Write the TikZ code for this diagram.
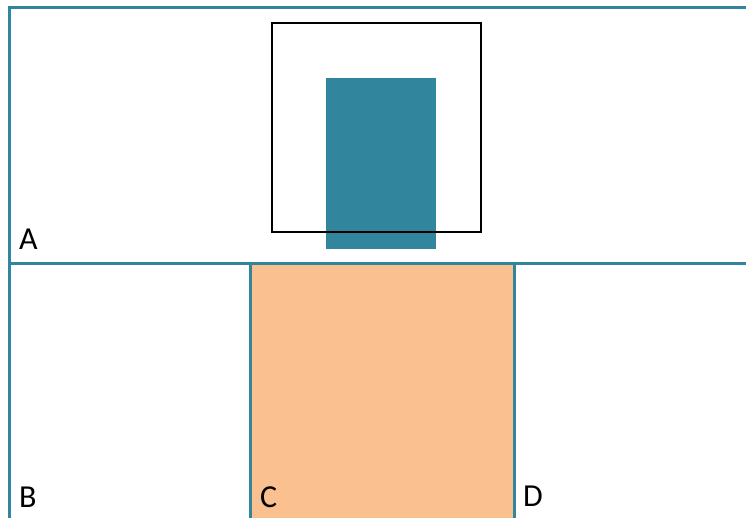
\documentclass[tikz,border=0pt]{standalone}
\usepackage{fontspec}
\setmainfont{Carlito}
\definecolor{tealline}{HTML}{31859C}
\definecolor{tealfill}{HTML}{31859C}
\definecolor{orangefill}{HTML}{FAC090}
\begin{document}
\begin{tikzpicture}[x=1pt,y=-1pt,
  border/.style={draw=tealline,line width=3pt},
  lbl/.style={anchor=base west,inner sep=0pt,font=\fontsize{32}{36}\selectfont}]
\useasboundingbox (0,0) rectangle (746,518);
\fill[white] (0,0) rectangle (746,518);
% orange panel C
\fill[orangefill] (250,264) rectangle (514,518);
% teal block
\fill[tealfill] (326,78) rectangle (436,249);
% black square
\node[draw=black,line width=2.4pt,minimum width=209pt,minimum height=209pt,inner sep=0pt] (sq) at (376.5,127.5) {};
% borders
\draw[border] (746,8) -- (9.5,8) -- (9.5,518);
\draw[border] (9.5,264) -- (746,264);
\draw[border] (250,264) -- (250,518);
\draw[border] (514,264) -- (514,518);
% labels
\node[lbl] (a) at (19,250) {A};
\node[lbl] (b) at (19,507) {B};
\node[lbl] (c) at (260,507) {C};
\node[lbl] (d) at (523,506) {D};
\end{tikzpicture}
\end{document}
